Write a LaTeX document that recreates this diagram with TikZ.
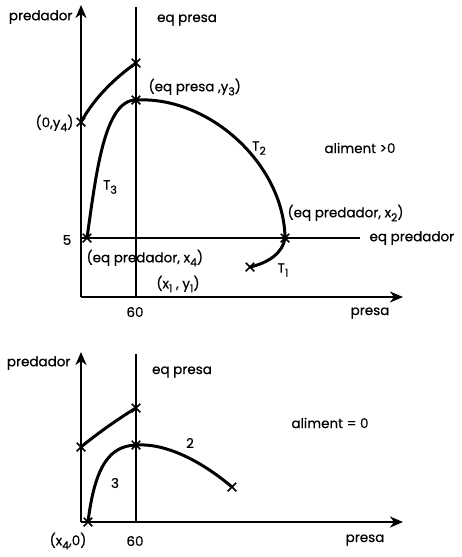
\documentclass[tikz,border=0pt]{standalone}
\usepackage{fontspec}
\setmainfont{Poppins}[FakeBold=0.5]
\usepackage{tikz}
\usetikzlibrary{arrows.meta,shapes.misc}
\newcommand{\idx}[1]{\raisebox{-0.55ex}{\fontsize{11}{12}\selectfont #1}}

\begin{document}
\begin{tikzpicture}[x=1pt,y=-1pt,font=\fontsize{13.5}{15}\selectfont,
    axis/.style={line width=2.4pt,-{Stealth[length=13pt,width=11pt,inset=4pt]}},
    eqline/.style={line width=1.8pt},
    traj/.style={line width=3pt},
    cross/.style={cross out,draw,line width=1.5pt,minimum size=7pt,inner sep=0pt}]
    \useasboundingbox (0,0) rectangle (461,557);
    % aliment > 0
    \coordinate (o1) at (81,297);
    \coordinate (ytop1) at (81,5);
    \coordinate (xend1) at (403,297);
    \coordinate (eqptop1) at (136,7);
    \coordinate (eqpbot1) at (136,297);
    \coordinate (eqdleft1) at (81,238);
    \coordinate (eqdright1) at (360,238);
    \draw[axis] (o1) -- (ytop1);
    \draw[axis] (o1) -- (xend1);
    \draw[eqline] (eqpbot1) -- (eqptop1);
    \draw[eqline] (eqdleft1) -- (eqdright1);
    \node[cross] (y4) at (81,122) {};
    \node[cross] (top1) at (136,63) {};
    \node[cross] (y3) at (136,100) {};
    \node[cross] (x4) at (87,238) {};
    \node[cross] (x2) at (285,238) {};
    \node[cross] (x1) at (250,267) {};
    \draw[traj] (y4.center) .. controls (95,97) and (115,78) .. (top1.center);
    \draw[traj] (x4.center) .. controls (96,175) and (104,100) .. (y3.center);
    \draw[traj] (y3.center) .. controls (210,96) and (284,165) .. (x2.center);
    \draw[traj] (x2.center) .. controls (283,253) and (268,263) .. (x1.center);
    \node[anchor=east] (lpred1) at (76,17) {predador};
    \node (leqp1) at (187,20) {eq presa};
    \node[anchor=west] (ly3) at (145,87) {(eq presa ,y\idx{3})};
    \node[anchor=east] (ly4) at (77,123) {(0,y\idx{4})};
    \node (lt2) at (259,148) {T\idx{2}};
    \node (lalim1) at (360,148) {aliment >0};
    \node (lt3) at (110,187) {T\idx{3}};
    \node[anchor=west] (lx2) at (284,213) {(eq predador, x\idx{2})};
    \node[anchor=west] (leqd) at (366,238) {eq predador};
    \node (lfive) at (67,240) {5};
    \node[anchor=west] (lx4) at (83,258) {(eq predador, x\idx{4})};
    \node (lx1) at (178,284) {(x\idx{1} , y\idx{1})};
    \node (lt1) at (283,270) {T\idx{1}};
    \node (lsixty1) at (135,312) {60};
    \node (lpresa1) at (370,313) {presa};
    % aliment = 0
    \coordinate (o2) at (81,522);
    \coordinate (ytop2) at (81,352);
    \coordinate (xend2) at (403,522);
    \coordinate (eqptop2) at (136,354);
    \coordinate (eqpbot2) at (136,522);
    \draw[axis] (o2) -- (ytop2);
    \draw[axis] (o2) -- (xend2);
    \draw[eqline] (eqpbot2) -- (eqptop2);
    \node[cross] (p1) at (81,447) {};
    \node[cross] (p2) at (136,408) {};
    \node[cross] (p3) at (136,445) {};
    \node[cross] (p4) at (88,522) {};
    \node[cross] (p5) at (232,487) {};
    \draw[traj] (p1.center) .. controls (98,433) and (118,419) .. (p2.center);
    \draw[traj] (p4.center) .. controls (95,465) and (110,446) .. (p3.center);
    \draw[traj] (p3.center) .. controls (165,443) and (200,460) .. (p5.center);
    \node[anchor=east] (lpred2) at (74,363) {predador};
    \node (leqp2) at (182,372) {eq presa};
    \node (lalim2) at (330,423) {aliment = 0};
    \node (ltwo) at (190,443) {2};
    \node (lthree) at (115,483) {3};
    \node (lx40) at (68,541) {(x\idx{4},0)};
    \node (lsixty2) at (135,541) {60};
    \node (lpresa2) at (365,540) {presa};
\end{tikzpicture}
\end{document}
